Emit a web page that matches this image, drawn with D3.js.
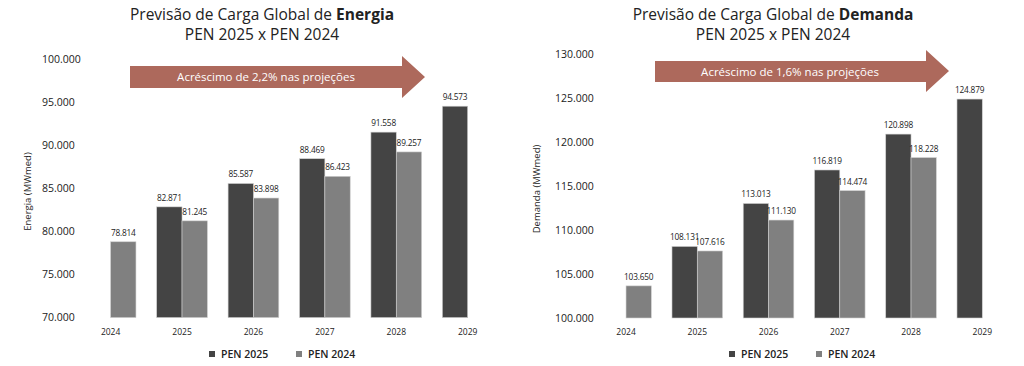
<!DOCTYPE html>
<html>
<head>
<meta charset="utf-8">
<script src="https://cdn.jsdelivr.net/npm/d3@7"></script>
<style>
html,body{margin:0;padding:0;background:#fff;}
svg{display:block;font-family:"Open Sans",sans-serif;}
</style>
</head>
<body>
<svg id="chart" width="1024" height="366"></svg>
<script>
const years = ["2024","2025","2026","2027","2028","2029"];
const seriesNames = ["PEN 2025","PEN 2024"];
const energiaPEN2025 = [null, 82871, 85587, 88469, 91558, 94573];
const energiaPEN2024 = [78814, 81245, 83898, 86423, 89257, null];
const demandaPEN2025 = [null, 108131, 113013, 116819, 120898, 124879];
const demandaPEN2024 = [103650, 107616, 111130, 114474, 118228, null];
const energiaTicks = [70000, 75000, 80000, 85000, 90000, 95000, 100000];
const demandaTicks = [100000, 105000, 110000, 115000, 120000, 125000, 130000];
const titles = ["Energia", "Demanda"];
const axisTitles = ["Energia (MWmed)", "Demanda (MWmed)"];
const arrowTexts = ["Acréscimo de 2,2% nas projeções", "Acréscimo de 1,6% nas projeções"];

const colors = ["#444444", "#808080"];
const arrowColor = "#ad695c";
const textColor = "#222";

const loc = d3.formatLocale({decimal: ",", thousands: ".", grouping: [3], currency: ["R$", ""]});
const fmt = loc.format(",.0f");

const svg = d3.select("#chart");

function drawChart(cfg) {
  const g = svg.append("g");
  const x = d3.scaleBand().domain(years).range(cfg.xRange).paddingInner(0.29).paddingOuter(0.145);
  const xs = d3.scaleBand().domain(seriesNames).range([0, x.bandwidth()]);
  const y = d3.scaleLinear().domain([cfg.ticks[0], cfg.ticks[cfg.ticks.length - 1]]).range(cfg.yRange);

  // title
  const t = g.append("text").attr("x", cfg.titleX).attr("y", 19.5).attr("text-anchor", "middle")
    .attr("font-size", 15.5).attr("fill", textColor);
  t.append("tspan").text("Previsão de Carga Global de ");
  t.append("tspan").attr("font-weight", 700).text(cfg.titleBold);
  g.append("text").attr("x", cfg.titleX).attr("y", 40).attr("text-anchor", "middle")
    .attr("font-size", 15.5).attr("fill", textColor).text("PEN 2025 x PEN 2024");

  // y tick labels
  g.selectAll(".tick").data(cfg.ticks).join("text")
    .attr("x", cfg.tickX).attr("y", d => y(d)).attr("dy", "0.35em")
    .attr("font-size", 10.5).attr("fill", textColor).text(d => fmt(d));

  // axis title
  const ay = (cfg.yRange[0] + cfg.yRange[1]) / 2 + 3;
  g.append("text").attr("transform", `translate(${cfg.axisTitleX},${ay}) rotate(-90)`)
    .attr("text-anchor", "middle").attr("font-size", 9.5).attr("fill", textColor).text(cfg.axisTitle);

  // bars
  const data = [];
  years.forEach((yr, i) => {
    [cfg.s25[i], cfg.s24[i]].forEach((v, j) => {
      if (v != null) data.push({yr, s: seriesNames[j], v, j});
    });
  });
  const base = cfg.yRange[0];
  g.selectAll(".bar").data(data).join("rect")
    .attr("x", d => x(d.yr) + xs(d.s))
    .attr("width", xs.bandwidth())
    .attr("y", d => y(d.v))
    .attr("height", d => base - y(d.v))
    .attr("fill", d => colors[d.j])
    .attr("stroke", "#d0d0d0").attr("stroke-width", 0.6);
  g.selectAll(".val").data(data).join("text")
    .attr("x", d => x(d.yr) + xs(d.s) + xs.bandwidth() / 2)
    .attr("y", d => y(d.v) - 6)
    .attr("text-anchor", "middle").attr("font-size", 8.3).attr("letter-spacing", -0.2).attr("fill", textColor)
    .text(d => fmt(d.v));

  // category labels
  g.selectAll(".cat").data(years).join("text")
    .attr("x", d => x(d) + x.bandwidth() / 2).attr("y", 335)
    .attr("text-anchor", "middle").attr("font-size", 8.5).attr("fill", textColor).text(d => d);

  // arrow
  const a = cfg.arrow;
  const pts = [[a.x0, a.bt], [a.hx, a.bt], [a.hx, a.ht], [a.x1, (a.ht + a.hb) / 2], [a.hx, a.hb], [a.hx, a.bb], [a.x0, a.bb]];
  g.append("path").attr("d", d3.line()(pts) + "Z").attr("fill", arrowColor);
  g.append("text").attr("x", a.tx).attr("y", (a.bt + a.bb) / 2).attr("dy", "0.35em")
    .attr("text-anchor", "middle").attr("font-size", 11.5).attr("fill", "#fff").text(cfg.arrowText);

  // legend
  const lg = g.selectAll(".lg").data(seriesNames).join("g")
    .attr("transform", (d, i) => `translate(${cfg.legendX[i]},354)`);
  lg.append("rect").attr("x", -12).attr("y", -3).attr("width", 6).attr("height", 6).attr("fill", (d, i) => colors[i]);
  lg.append("text").attr("x", 0).attr("dy", "0.35em").attr("font-size", 10.5).attr("font-weight", 600)
    .attr("fill", textColor).text(d => d);
}

drawChart({
  xRange: [74.9, 503.4], yRange: [317.6, 59.5], ticks: energiaTicks,
  s25: energiaPEN2025, s24: energiaPEN2024,
  tickX: 42, axisTitleX: 31, axisTitle: axisTitles[0], titleX: 262, titleBold: titles[0],
  arrow: {x0: 130, x1: 425, hx: 402, bt: 66, bb: 88, ht: 56, hb: 98, tx: 266},
  arrowText: arrowTexts[0], legendX: [221, 308]
});
drawChart({
  xRange: [590.4, 1017.9], yRange: [318, 54], ticks: demandaTicks,
  s25: demandaPEN2025, s24: demandaPEN2024,
  tickX: 555, axisTitleX: 540, axisTitle: axisTitles[1], titleX: 773, titleBold: titles[1],
  arrow: {x0: 655, x1: 949, hx: 926, bt: 61, bb: 82, ht: 50, hb: 92, tx: 790},
  arrowText: arrowTexts[1], legendX: [741, 828]
});
</script>
</body>
</html>
